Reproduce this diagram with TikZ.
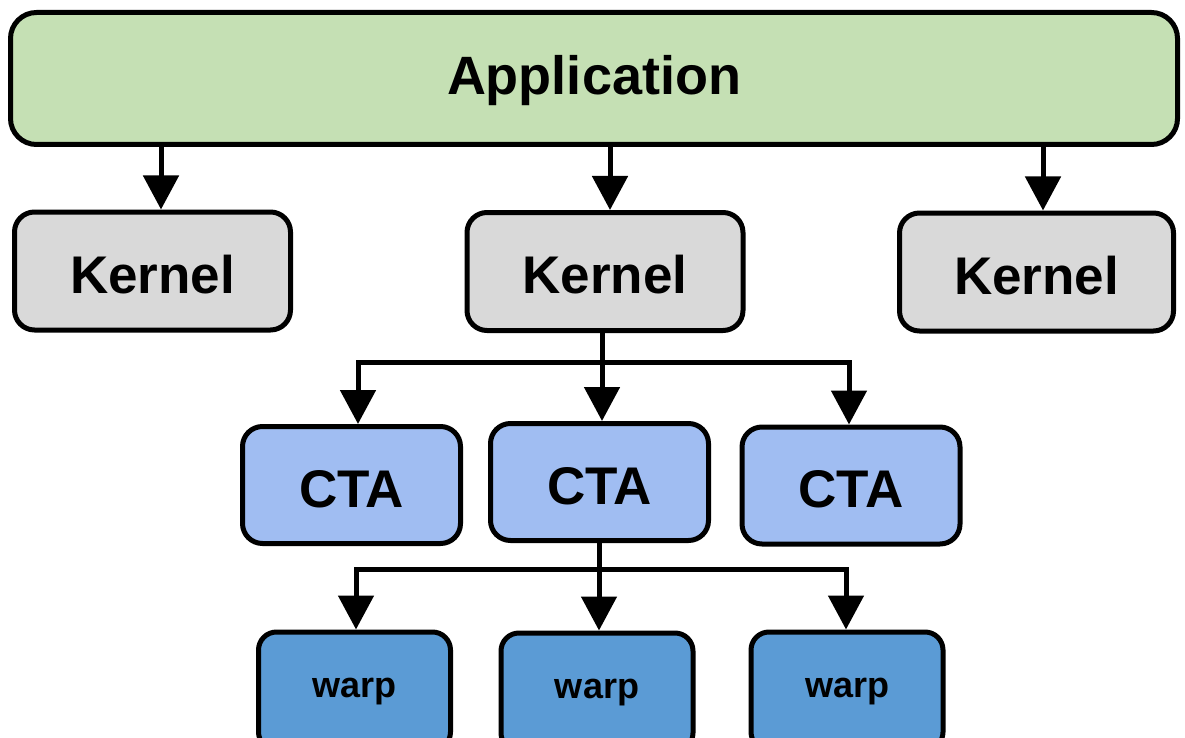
\documentclass[tikz,border=0pt]{standalone}
\usepackage{fontspec}
\setmainfont{Liberation Sans}
\usetikzlibrary{arrows.meta,calc}
\definecolor{appgreen}{HTML}{C5E0B4}
\definecolor{kernelgray}{HTML}{D9D9D9}
\definecolor{ctablue}{HTML}{A0BDF2}
\definecolor{warpblue}{HTML}{5B9BD5}
\tikzset{
  box/.style={draw=black, line width=5pt, rounded corners=20pt, inner sep=0pt,
              text height=44pt, text depth=0pt,
              font=\bfseries\fontsize{53}{60}\selectfont},
  appbox/.style={box, fill=appgreen, rounded corners=26pt,
                 minimum width=1167pt, minimum height=132pt, text height=33pt,
                 font=\bfseries\fontsize{54}{60}\selectfont},
  kernelbox/.style={box, fill=kernelgray, minimum width=276pt, minimum height=118pt},
  ctabox/.style={box, fill=ctablue, minimum width=218pt, minimum height=117pt},
  warpbox/.style={box, fill=warpblue, rounded corners=18pt,
                  minimum width=192pt, minimum height=118pt, text height=12pt,
                  font=\bfseries\fontsize{36}{40}\selectfont},
  link/.style={draw=black, line width=5pt},
  arr/.style={link, -{Triangle[width=35pt,length=34pt]}}
}
\begin{document}
\begin{tikzpicture}[x=1pt,y=-1pt]
  \useasboundingbox (0,0) rectangle (1185,738);
  \clip (0,0) rectangle (1185,738);
  \fill[white] (0,0) rectangle (1185,738);

  % application
  \node[appbox] (app) at (594,78.5) {Application};

  % kernels
  \node[kernelbox] (lk) at (152.5,271) {Kernel};
  \node[kernelbox] (mk) at (605,271.5) {Kernel};
  \node[kernelbox, minimum width=274pt] (rk) at (1036.5,272) {Kernel};

  % CTAs
  \node[ctabox] (cl) at (351.5,485) {CTA};
  \node[ctabox] (cm) at (599.5,482) {CTA};
  \node[ctabox] (cr) at (851,485.5) {CTA};

  % warps
  \node[warpbox] (wl) at (354.5,691) {warp};
  \node[warpbox] (wm) at (597,692) {warp};
  \node[warpbox] (wr) at (847,691) {warp};

  % application to kernels
  \draw[arr] ([xshift=8.5pt]lk.north |- app.south) -- ([xshift=8.5pt]lk.north);
  \draw[arr] ([xshift=5pt]mk.north |- app.south) -- ([xshift=5pt]mk.north);
  \draw[arr] ([xshift=6.5pt]rk.north |- app.south) -- ([xshift=6.5pt]rk.north);

  % kernel to CTAs
  \coordinate (kbL) at (358,362);
  \coordinate (kbM) at (602,362);
  \coordinate (kbR) at (849,362);
  \draw[arr] (kbR) -- (kbL) -- (kbL |- cl.north);
  \draw[arr] (kbL) -- (kbR) -- (kbR |- cr.north);
  \draw[arr] (kbM |- mk.south) -- (kbM |- cm.north);

  % CTA to warps
  \coordinate (cbL) at (356,569);
  \coordinate (cbM) at (599,569);
  \coordinate (cbR) at (846,569);
  \draw[arr] (cbR) -- (cbL) -- (cbL |- wl.north);
  \draw[arr] (cbL) -- (cbR) -- (cbR |- wr.north);
  \draw[arr] (cbM |- cm.south) -- (cbM |- wm.north);
\end{tikzpicture}
\end{document}
